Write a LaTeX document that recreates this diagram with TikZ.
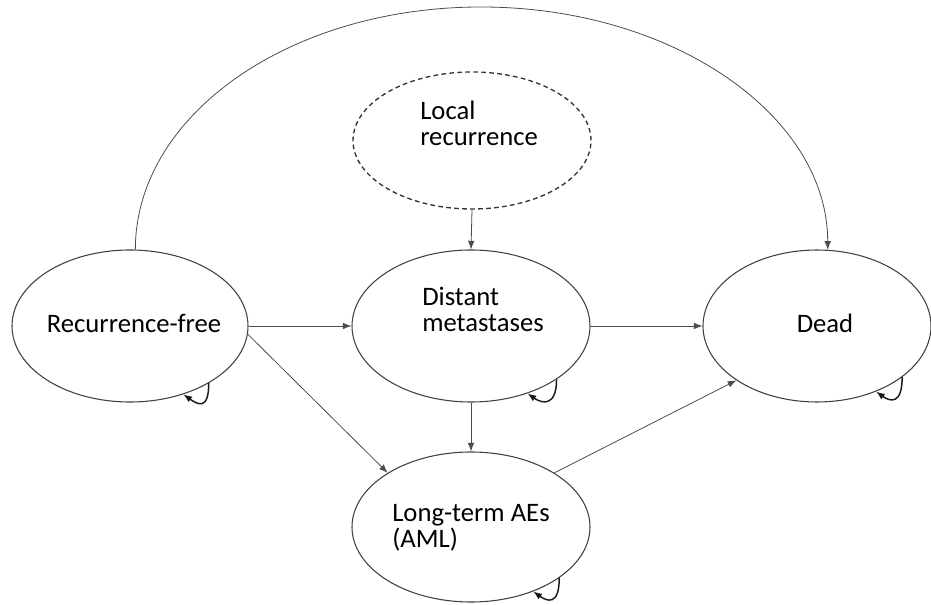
\documentclass[tikz,border=0pt]{standalone}
\usepackage{fontspec}
\setmainfont{Carlito}
\usetikzlibrary{shapes.geometric,arrows.meta}
\begin{document}
\begin{tikzpicture}[x=0.75pt,y=-0.75pt,
  state/.style={ellipse,draw=black!75,line width=0.8pt,inner sep=0pt},
  dashedstate/.style={state,draw=black!80,line width=1pt,dash pattern=on 3.5pt off 2.5pt},
  lbl/.style={inner sep=0pt,align=left,font=\fontsize{20}{19.5}\selectfont},
  conn/.style={draw=black!70,line width=0.6pt,-{Latex[length=6.5pt,width=5pt]}},
  selfloop/.style={draw=black!90,line width=1.1pt,-{Latex[length=6.5pt,width=5pt]}}]
\useasboundingbox (0,0) rectangle (931,605);
% states
\node[state,minimum width=177pt,minimum height=114pt] (rf) at (130,326) {};
\node[state,minimum width=178.5pt,minimum height=114pt] (dm) at (471,326) {};
\node[state,minimum width=171pt,minimum height=114pt] (dead) at (817,326) {};
\node[state,minimum width=178.5pt,minimum height=112.5pt] (lt) at (471,527) {};
\node[dashedstate,minimum width=178.5pt,minimum height=102.75pt] (lr) at (472,140.5) {};
% labels
\node[lbl,anchor=base] (rftext) at (134,333) {Recurrence-free};
\node[lbl,anchor=base] (deadtext) at (825,333) {Dead};
\node[lbl,anchor=base west] (dmtext) at (422,332) {Distant\\metastases};
\node[lbl,anchor=base west] (lrtext) at (420,146) {Local\\recurrence};
\node[lbl,anchor=base west] (lttext) at (392,547) {Long-term AEs\\(AML)};
% connectors
\draw[conn] (lr.south) -- (dm.north);
\draw[conn] (rf.east) -- (dm.west);
\draw[conn] (dm.east) -- (dead.west);
\draw[conn] (dm.south) -- (lt.north);
\draw[conn] (rf.-4) -- (lt.147);
\draw[conn] (lt.33) -- (dead.214);
\coordinate (arctop) at (481,7);
\draw[conn] (rf.86) .. controls +(0,-134) and +(-192,0) .. (arctop)
  .. controls +(192,0) and +(0,-134) .. (dead.82);
% self loops
\draw[selfloop] (rf.-36) .. controls +(0,28) and +(14,10) .. (rf.-52);
\draw[selfloop] (dm.-32) .. controls +(0,28) and +(14,10) .. (dm.-50);
\draw[selfloop] (dead.-31) .. controls +(0,28) and +(14,10) .. (dead.-48);
\draw[selfloop] (lt.-30) .. controls +(0,28) and +(14,10) .. (lt.-46);
\end{tikzpicture}
\end{document}
